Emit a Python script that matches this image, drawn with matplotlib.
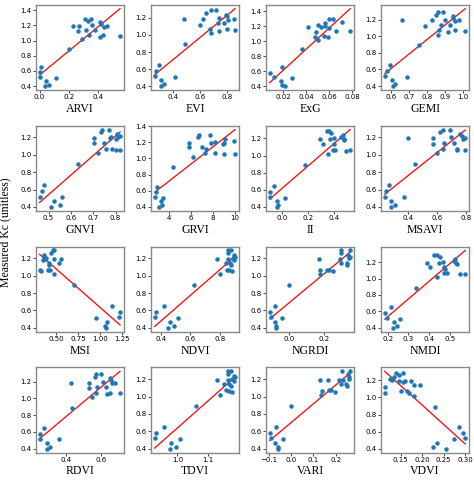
import matplotlib
matplotlib.use("Agg")
import matplotlib.pyplot as plt
import numpy as np

names = ["ARVI","EVI","ExG","GEMI","GNVI","GRVI","II","MSAVI",
         "MSI","NDVI","NGRDI","NMDI","RDVI","TDVI","VARI","VDVI"]

ARVI = [(0.00,0.52),(0.005,0.58),(0.01,0.65),(0.04,0.40),(0.045,0.47),(0.065,0.42),(0.11,0.51),(0.20,0.89),(0.23,1.19),(0.26,1.12),(0.27,1.19),(0.29,1.02),(0.31,1.29),(0.32,1.14),(0.33,1.26),(0.335,1.07),(0.35,1.29),(0.36,1.20),(0.38,1.14),(0.41,1.05),(0.415,1.24),(0.42,1.22),(0.435,1.07),(0.44,1.18),(0.46,1.19),(0.55,1.06)]
EVI = [(0.26,0.52),(0.27,0.58),(0.29,0.65),(0.31,0.47),(0.31,0.40),(0.33,0.42),(0.41,0.51),(0.48,1.19),(0.49,0.89),(0.60,1.12),(0.62,1.19),(0.64,1.26),(0.67,1.07),(0.68,1.02),(0.68,1.29),(0.72,1.29),(0.73,1.14),(0.74,1.20),(0.74,1.05),(0.78,1.14),(0.79,1.24),(0.80,1.07),(0.80,1.22),(0.81,1.18),(0.85,1.19),(0.86,1.06)]
ExG = [(0.008,0.58),(0.012,0.52),(0.018,0.47),(0.019,0.65),(0.019,0.42),(0.021,0.40),(0.027,0.51),(0.036,0.89),(0.041,1.19),(0.047,1.05),(0.048,1.12),(0.05,1.02),(0.05,1.22),(0.053,1.19),(0.055,1.07),(0.056,1.20),(0.056,1.24),(0.059,1.06),(0.06,1.18),(0.06,1.29),(0.063,1.29),(0.066,1.14),(0.071,1.26),(0.078,1.14)]
GEMI = [(0.565,0.52),(0.575,0.58),(0.595,0.65),(0.605,0.47),(0.61,0.40),(0.625,0.42),(0.66,1.19),(0.69,0.51),(0.755,0.89),(0.79,1.12),(0.83,1.19),(0.85,1.26),(0.86,1.02),(0.86,1.29),(0.87,1.07),(0.88,1.14),(0.89,1.29),(0.9,1.20),(0.92,1.05),(0.93,1.14),(0.945,1.24),(0.945,1.22),(0.955,1.07),(0.96,1.18),(0.98,1.19),(1.015,1.06)]
GNVI = [(0.46,0.52),(0.47,0.58),(0.48,0.65),(0.51,0.40),(0.525,0.47),(0.55,0.42),(0.56,0.51),(0.63,0.89),(0.705,1.19),(0.705,1.14),(0.72,1.02),(0.735,1.26),(0.74,1.29),(0.75,1.14),(0.755,1.07),(0.77,1.29),(0.775,1.19),(0.78,1.20),(0.785,1.07),(0.80,1.06),(0.80,1.18),(0.805,1.24),(0.81,1.20),(0.82,1.22),(0.82,1.05)]
GRVI = [(2.7,0.52),(2.8,0.58),(2.9,0.65),(3.1,0.40),(3.3,0.47),(3.4,0.42),(3.5,0.51),(4.4,0.89),(5.8,1.19),(5.8,1.14),(6.2,1.02),(6.6,1.26),(6.7,1.29),(7.0,1.14),(7.3,1.07),(7.4,1.12),(7.7,1.29),(7.8,1.19),(8.2,1.20),(8.2,1.07),(8.9,1.18),(9.0,1.19),(9.0,1.06),(9.1,1.24),(9.9,1.22),(10.0,1.05)]
II = [(-0.1,0.58),(-0.1,0.52),(-0.07,0.65),(-0.045,0.47),(-0.04,0.40),(-0.035,0.42),(0.02,0.51),(0.18,0.89),(0.29,1.19),(0.32,1.14),(0.345,1.29),(0.36,1.02),(0.365,1.29),(0.37,1.19),(0.38,1.26),(0.395,1.07),(0.40,1.20),(0.40,1.14),(0.415,1.07),(0.46,1.22),(0.47,1.24),(0.48,1.18),(0.48,1.19),(0.50,1.05),(0.53,1.06)]
MSAVI = [(0.24,0.52),(0.25,0.58),(0.27,0.65),(0.28,0.47),(0.285,0.40),(0.31,0.42),(0.37,0.51),(0.40,1.19),(0.45,0.89),(0.57,1.19),(0.57,1.12),(0.60,1.02),(0.62,1.26),(0.64,1.29),(0.645,1.07),(0.65,1.14),(0.69,1.29),(0.70,1.20),(0.72,1.14),(0.735,1.05),(0.74,1.07),(0.76,1.24),(0.77,1.22),(0.78,1.18),(0.79,1.19),(0.795,1.06)]
MSI = [(0.31,1.06),(0.33,1.05),(0.35,1.18),(0.355,1.22),(0.36,1.24),(0.37,1.19),(0.38,1.20),(0.41,1.07),(0.42,1.12),(0.42,1.14),(0.43,1.07),(0.44,1.26),(0.46,1.29),(0.47,1.19),(0.48,1.02),(0.48,1.29),(0.53,1.14),(0.56,1.19),(0.70,0.89),(0.96,0.51),(1.06,0.42),(1.07,0.40),(1.08,0.47),(1.14,0.65),(1.22,0.52),(1.23,0.58)]
NDVI = [(0.36,0.52),(0.37,0.58),(0.42,0.65),(0.45,0.40),(0.465,0.47),(0.49,0.42),(0.52,0.51),(0.625,0.89),(0.78,1.19),(0.80,1.02),(0.84,1.14),(0.845,1.07),(0.85,1.26),(0.85,1.29),(0.855,1.19),(0.86,1.06),(0.865,1.14),(0.87,1.12),(0.875,1.29),(0.88,1.05),(0.885,1.20),(0.89,1.18),(0.89,1.24),(0.90,1.22)]
NGRDI = [(-0.11,0.58),(-0.10,0.52),(-0.08,0.65),(-0.08,0.47),(-0.075,0.42),(-0.075,0.40),(-0.04,0.51),(0.0,0.89),(0.17,1.19),(0.18,1.06),(0.18,1.02),(0.22,1.07),(0.23,1.07),(0.25,1.05),(0.29,1.19),(0.30,1.14),(0.30,1.29),(0.30,1.26),(0.33,1.12),(0.33,1.14),(0.34,1.24),(0.345,1.20),(0.35,1.22),(0.35,1.29)]
NMDI = [(0.185,0.58),(0.195,0.52),(0.215,0.65),(0.225,0.40),(0.23,0.47),(0.245,0.42),(0.26,0.51),(0.335,0.89),(0.39,1.19),(0.405,1.14),(0.425,1.29),(0.44,1.29),(0.44,1.02),(0.45,1.19),(0.455,1.26),(0.465,1.20),(0.47,1.07),(0.47,1.14),(0.475,1.12),(0.485,1.07),(0.52,1.22),(0.525,1.24),(0.53,1.19),(0.535,1.18),(0.55,1.05),(0.575,1.06)]
RDVI = [(0.25,0.52),(0.255,0.58),(0.275,0.65),(0.29,0.47),(0.29,0.40),(0.31,0.42),(0.36,0.51),(0.43,1.19),(0.435,0.89),(0.53,1.19),(0.53,1.12),(0.55,1.02),(0.565,1.26),(0.57,1.29),(0.57,1.07),(0.58,1.14),(0.60,1.29),(0.61,1.20),(0.63,1.14),(0.635,1.05),(0.65,1.07),(0.655,1.24),(0.66,1.22),(0.665,1.18),(0.68,1.19),(0.71,1.06)]
TDVI = [(0.925,0.52),(0.93,0.58),(0.955,0.65),(0.975,0.40),(0.98,0.47),(0.995,0.42),(1.01,0.51),(1.06,0.89),(1.13,1.19),(1.14,1.02),(1.155,1.14),(1.16,1.07),(1.165,1.26),(1.165,1.29),(1.165,1.19),(1.17,1.06),(1.17,1.14),(1.175,1.12),(1.175,1.29),(1.18,1.05),(1.18,1.20),(1.185,1.18),(1.185,1.24),(1.19,1.22)]
VARI = [(-0.095,0.58),(-0.09,0.52),(-0.065,0.65),(-0.07,0.47),(-0.06,0.42),(-0.06,0.40),(-0.035,0.51),(0.0,0.89),(0.13,1.19),(0.135,1.02),(0.14,1.06),(0.165,1.19),(0.17,1.07),(0.18,1.07),(0.195,1.05),(0.215,1.19),(0.225,1.14),(0.23,1.29),(0.235,1.19),(0.245,1.14),(0.25,1.12),(0.255,1.26),(0.26,1.22),(0.26,1.20),(0.265,1.29)]
VDVI = [(0.113,1.12),(0.113,1.05),(0.125,1.22),(0.13,1.20),(0.135,1.24),(0.14,1.29),(0.145,1.19),(0.145,1.26),(0.15,1.07),(0.155,1.18),(0.155,1.29),(0.16,1.19),(0.165,1.07),(0.17,1.05),(0.175,1.19),(0.18,1.02),(0.18,1.14),(0.195,1.14),(0.225,0.42),(0.23,0.89),(0.235,0.47),(0.255,0.40),(0.275,0.51),(0.285,0.65),(0.295,0.58),(0.30,0.52)]

datasets = [ARVI,EVI,ExG,GEMI,GNVI,GRVI,II,MSAVI,MSI,NDVI,NGRDI,NMDI,RDVI,TDVI,VARI,VDVI]
xticks = {
 "ARVI":[0.0,0.2,0.4],"EVI":[0.4,0.6,0.8],"ExG":[0.02,0.04,0.06,0.08],"GEMI":[0.6,0.7,0.8,0.9,1.0],
 "GNVI":[0.5,0.6,0.7,0.8],"GRVI":[4,6,8,10],"II":[0.0,0.2,0.4],"MSAVI":[0.4,0.6,0.8],
 "MSI":[0.5,0.75,1.0,1.25],"NDVI":[0.4,0.6,0.8],"NGRDI":[0.0,0.2],"NMDI":[0.2,0.3,0.4,0.5],
 "RDVI":[0.4,0.6],"TDVI":[1.0,1.1],"VARI":[-0.1,0.0,0.1,0.2],"VDVI":[0.15,0.20,0.25,0.30]}
ytop = {"ARVI":1.4,"ExG":1.4,"GRVI":1.4}

fig, axes = plt.subplots(4, 4, figsize=(4.74, 4.84), dpi=100)
fig.subplots_adjust(left=0.075, right=0.99, top=0.99, bottom=0.065, wspace=0.3, hspace=0.42)
for ax, name, d in zip(axes.flat, names, datasets):
    x = np.array([p[0] for p in d]); y = np.array([p[1] for p in d])
    ax.scatter(x, y, s=5, color="#1f77b4", zorder=3)
    k, b = np.polyfit(x, y, 1)
    xs = np.array([x.min(), x.max()])
    ax.plot(xs, k*xs + b, color="red", lw=0.9)
    ax.set_xticks(xticks[name])
    ax.set_yticks([0.4,0.6,0.8,1.0,1.2,1.4] if name in ytop else [0.4,0.6,0.8,1.0,1.2])
    ax.tick_params(labelsize=5, length=2, width=0.5, pad=1)
    ax.set_xlabel(name, family="Liberation Serif", fontsize=8.5, labelpad=2)
    for s in ax.spines.values():
        s.set_color("#888888"); s.set_linewidth(1.0)
fig.text(0.012, 0.52, "Measured Kc (unitless)", rotation=90, va="center", ha="center",
         family="Liberation Serif", fontsize=8.5)
fig.savefig("out.png", dpi=100)
